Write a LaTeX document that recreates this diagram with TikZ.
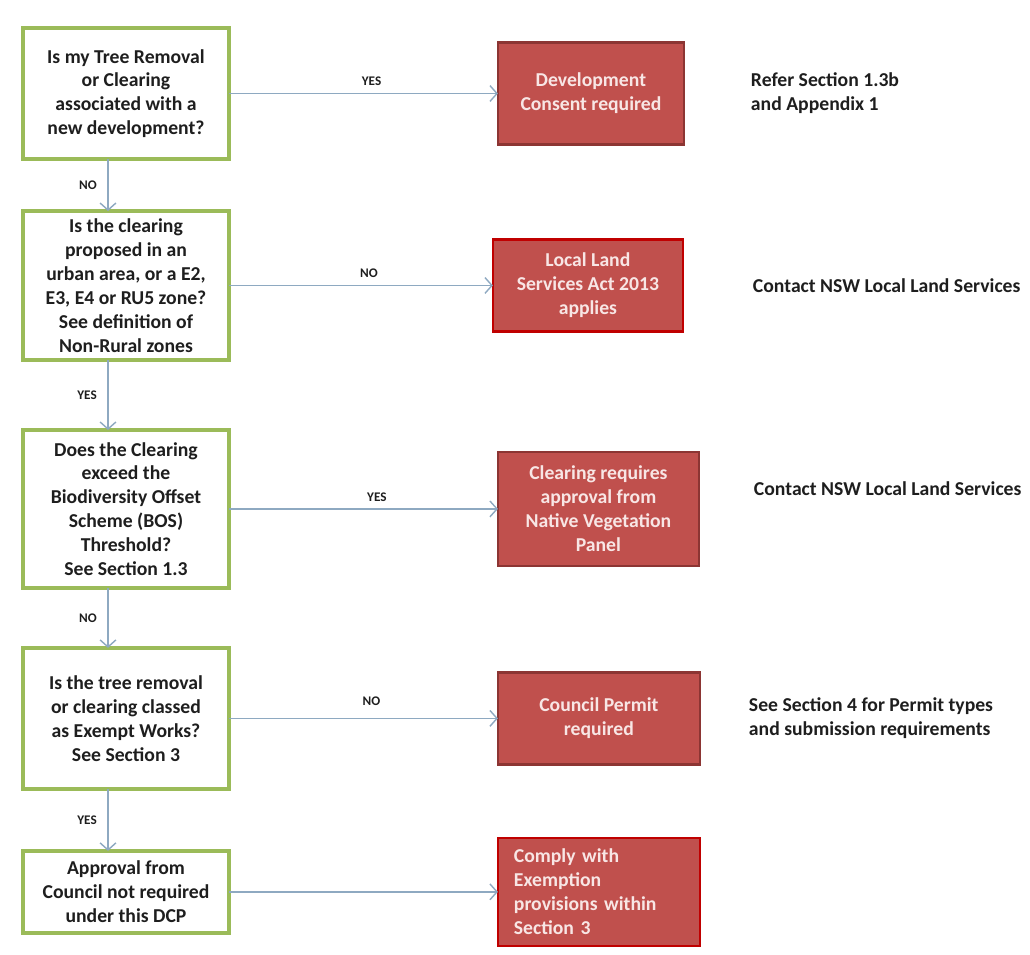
\documentclass[tikz,border=0pt]{standalone}
\usepackage{fontspec}
\setmainfont{Carlito}
\usetikzlibrary{arrows.meta,positioning}

\definecolor{qgreen}{HTML}{9BBB59}
\definecolor{rfill}{HTML}{C0504D}
\definecolor{rline}{HTML}{8C3533}
\definecolor{rbright}{HTML}{C00000}
\definecolor{flowblue}{HTML}{8EA9C1}
\definecolor{ink}{HTML}{1E1E1E}
\definecolor{paletext}{HTML}{F8E6E5}

\tikzset{
  boxfont/.style={font=\bfseries\fontsize{11.2}{13.6}\selectfont},
  question/.style={draw=qgreen, line width=2pt, fill=white, text=ink, boxfont,
    align=center, minimum width=4.12cm, inner sep=1pt, outer sep=0pt},
  outcome/.style={draw=rline, line width=1.3pt, fill=rfill, text=paletext, boxfont,
    align=center, inner sep=1pt, outer sep=0pt},
  note/.style={text=ink, boxfont, align=left, inner sep=1pt},
  answer/.style={text=ink, font=\bfseries\fontsize{7.5}{8}\selectfont, inner sep=1pt},
  flow/.style={draw=flowblue, line width=0.8pt, -{Straight Barb[length=4pt,width=9pt]}}
}

\begin{document}
\begin{tikzpicture}[x=0.02cm, y=-0.02cm]
  \useasboundingbox[fill=white] (0,0) rectangle (1030,954);
  \coordinate (spine) at (108,0);

  % questions
  \node[question, minimum height=2.62cm] (develop) at (126,93.5)
    {Is my Tree Removal\\or Clearing\\associated with a\\new development?};
  \node[question, minimum height=2.98cm] (urban)   [below=1.04cm of develop]
    {Is the clearing\\proposed in an\\urban area, or a E2,\\E3, E4 or RU5 zone?\\See definition of\\Non-Rural zones};
  \node[question, minimum height=3.16cm] (offset)  [below=1.4cm of urban]
    {Does the Clearing\\exceed the\\Biodiversity Offset\\Scheme (BOS)\\Threshold?\\See Section 1.3};
  \node[question, minimum height=2.82cm] (exempt)  [below=1.2cm of offset]
    {Is the tree removal\\or clearing classed\\as Exempt Works?\\See Section 3};
  \node[question, minimum height=1.64cm] (noneed)  [below=1.24cm of exempt]
    {Approval from\\Council not required\\under this DCP};

  % outcomes
  \node[outcome, minimum width=3.72cm, minimum height=2.04cm] (consent) [right=5.38cm of develop]
    {Development\\Consent required};
  \node[outcome, draw=rbright, minimum width=3.8cm, minimum height=1.84cm] (llsact) [right=5.28cm of urban]
    {Local Land\\Services Act 2013\\applies};
  \node[outcome, minimum width=4.02cm, minimum height=2.28cm] (panel) [right=5.38cm of offset]
    {Clearing requires\\approval from\\Native Vegetation\\Panel};
  \node[outcome, minimum width=4.04cm, minimum height=1.84cm] (permit) [right=5.38cm of exempt]
    {Council Permit\\required};
  \node[outcome, draw=rbright, minimum width=4.04cm, minimum height=2.16cm,
        align=left, text width=3.4cm] (comply) [right=5.38cm of noneed]
    {Comply with\\Exemption\\provisions within\\Section 3};

  % notes
  \node[note] (refer)   [right=1.3cm of consent]            {Refer Section 1.3b\\and Appendix 1};
  \node[note] (llsone)  [right=1.36cm of llsact]            {Contact NSW Local Land Services};
  \node[note] (llstwo)  [right=1.06cm of panel, yshift=0.4cm] {Contact NSW Local Land Services};
  \node[note] (permits) [right=0.94cm of permit]            {See Section 4 for Permit types\\and submission requirements};

  % down the questions
  \draw[flow] (develop.south -| spine) -- node[answer, left=5pt] {NO}  (urban.north -| spine);
  \draw[flow] (urban.south -| spine)   -- node[answer, left=5pt] {YES} (offset.north -| spine);
  \draw[flow] (offset.south -| spine)  -- node[answer, left=5pt] {NO}  (exempt.north -| spine);
  \draw[flow] (exempt.south -| spine)  -- node[answer, left=5pt] {YES} (noneed.north -| spine);

  % across to the outcomes
  \draw[flow] (develop) -- node[answer, above=3pt, pos=0.53] {YES} (consent);
  \draw[flow] (urban)   -- node[answer, above=3pt, pos=0.53] {NO}  (llsact);
  \draw[flow] (offset)  -- node[answer, above=3pt, pos=0.55] {YES} (panel);
  \draw[flow] (exempt)  -- node[answer, above=6pt, pos=0.53] {NO}  (permit);
  \draw[flow] (noneed)  -- (comply);
\end{tikzpicture}
\end{document}
